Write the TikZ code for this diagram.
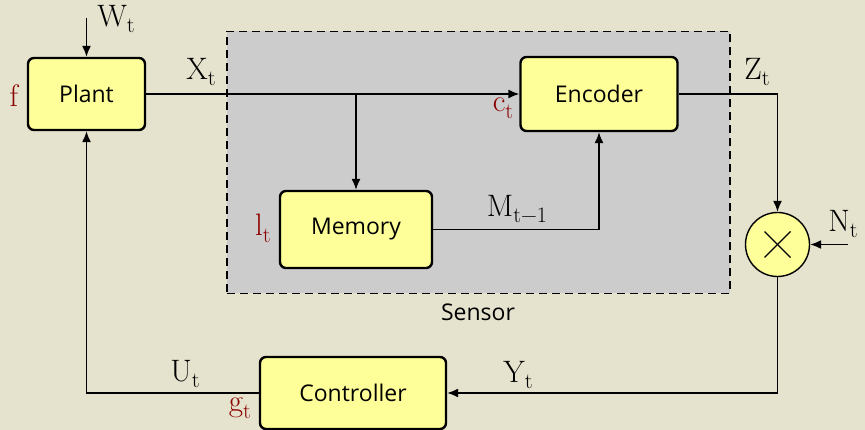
\documentclass[tikz,border=0pt]{standalone}
\usepackage{fontspec}
\setmainfont{Open Sans}
\newfontfamily\labf{Latin Modern Roman}
\usetikzlibrary{arrows.meta,calc}
\definecolor{bgc}{RGB}{229,227,205}
\definecolor{boxc}{RGB}{255,255,153}
\definecolor{senc}{RGB}{204,204,204}
\definecolor{labc}{RGB}{139,0,0}
\newcommand{\ml}[2]{{\labf #1\raisebox{-0.22em}{\fontsize{22}{22}\selectfont #2}}}
\begin{document}
\begin{tikzpicture}[x=1pt,y=-1pt,
  blk/.style={draw,line width=2.4pt,fill=boxc,rounded corners=6pt,inner sep=0pt,font=\fontsize{23}{26}\selectfont},
  conn/.style={line width=1.4pt},
  arr/.style={conn,-{Latex[length=11pt,width=9pt]}},
  mlab/.style={font=\fontsize{31}{34}\selectfont\labf,inner sep=0pt},
  rlab/.style={mlab,text=labc}]
\fill[bgc] (0,0) rectangle (865,430);
\useasboundingbox (0,0) rectangle (865,430);
\node[draw,dashed,line width=1.2pt,fill=senc,minimum width=503pt,minimum height=262pt,inner sep=0pt,dash pattern=on 8pt off 5pt] (sensor) at (478.5,162.5) {};
\node[font=\fontsize{23}{26}\selectfont] (senslab) at (478,312) {Sensor};
\node[blk,minimum width=117pt,minimum height=72pt] (plant) at (86.5,94) {Plant};
\node[blk,minimum width=157pt,minimum height=74pt] (enc) at (599,94) {Encoder};
\node[blk,minimum width=152pt,minimum height=77pt] (mem) at (356,229.5) {Memory};
\node[blk,minimum width=186pt,minimum height=72pt] (ctrl) at (353,393) {Controller};
\node[draw,line width=1.4pt,fill=boxc,circle,minimum size=64pt,inner sep=0pt] (mix) at (777.5,244.5) {};
\draw[line width=1.4pt] ($(mix.center)+(-13,-13)$) -- ($(mix.center)+(13,13)$);
\draw[line width=1.4pt] ($(mix.center)+(-13,13)$) -- ($(mix.center)+(13,-13)$);
\coordinate (wt) at (86.5,18);
\coordinate (nt) at (848,244.5);
\coordinate (br) at (356,94);
\draw[arr] (wt) -- (plant.north);
\draw[arr] (plant.east) -- (enc.west);
\draw[arr] (br) -- (mem.north);
\draw[arr] (mem.east) -| (enc.south);
\draw[arr] (enc.east) -| (mix.north);
\draw[arr] (nt) -- (mix.east);
\draw[arr] (mix.south) |- (ctrl.east);
\draw[arr] (ctrl.west) -| (plant.south);
\node[mlab] (lw) at (116,19) {\ml{W}{t}};
\node[mlab] (lx) at (201,72) {\ml{X}{t}};
\node[mlab] (lz) at (757,72) {\ml{Z}{t}};
\node[mlab] (lm) at (517,209) {\ml{M}{t−1}};
\node[mlab] (ln) at (843,224) {\ml{N}{t}};
\node[mlab] (ly) at (518,375) {\ml{Y}{t}};
\node[mlab] (lu) at (185,374) {\ml{U}{t}};
\node[rlab] (lf) at (14,96) {f};
\node[rlab] (lc) at (503,108) {\ml{c}{t}};
\node[rlab] (ll) at (263,228) {\ml{l}{t}};
\node[rlab] (lg) at (240,408) {\ml{g}{t}};
\end{tikzpicture}
\end{document}
